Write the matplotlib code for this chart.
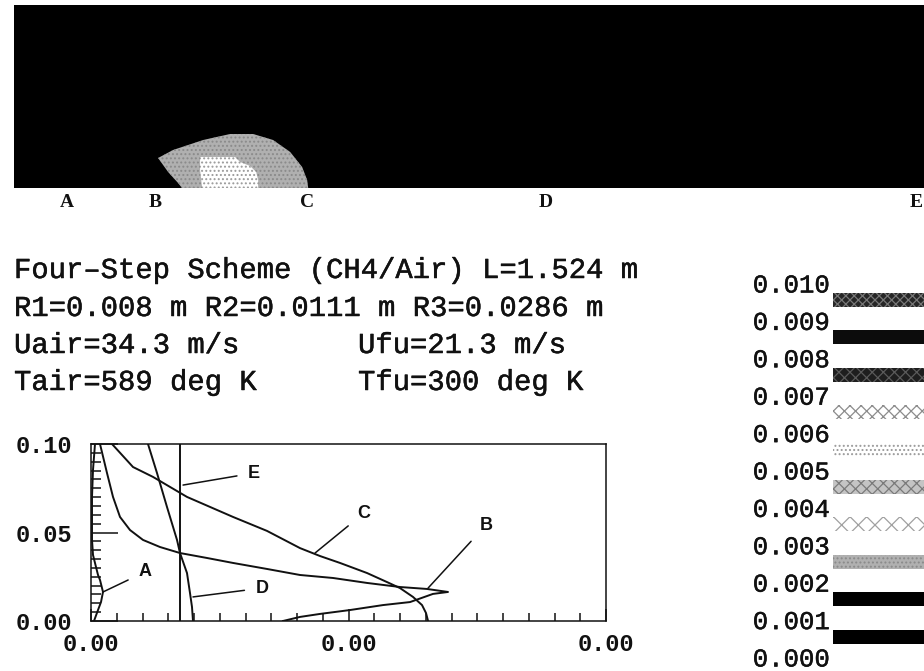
import matplotlib
matplotlib.use("Agg")
import matplotlib.pyplot as plt
import matplotlib.patheffects as pe
from matplotlib.ticker import FormatStrFormatter, MultipleLocator

# ---------------- data ----------------
# flame field along the tube (x [m], r [m])
tube_length = 1.524
tube_radius = 0.0286
station_names = ["A", "B", "C", "D", "E"]
station_x = [0.088, 0.233, 0.485, 0.879, 1.492]

# contour patches of the reaction-rate field, with the level they belong to
zone_outer_x = [0.278, 0.2715, 0.255, 0.2384, 0.2632, 0.3129, 0.3576, 0.3957,
                0.4288, 0.4570, 0.4768, 0.4851, 0.4868]
zone_outer_r = [0.0, 0.00078, 0.0025, 0.00469, 0.00594, 0.0075, 0.00844, 0.00844,
                0.0075, 0.00563, 0.00328, 0.00125, 0.0]
zone_outer_level = 0.002
zone_inner_x = [0.3113, 0.3079, 0.3079, 0.3659, 0.3742, 0.3907, 0.4007, 0.4040, 0.4040]
zone_inner_r = [0.0, 0.00281, 0.00484, 0.00484, 0.00406, 0.00344, 0.0025, 0.00125, 0.0]
zone_inner_level = 0.005
background_level = 0.000

# contour levels of the key
level_values = [0.010, 0.009, 0.008, 0.007, 0.006, 0.005, 0.004, 0.003, 0.002, 0.001, 0.000]
level_labels = ["0.010", "0.009", "0.008", "0.007", "0.006", "0.005",
                "0.004", "0.003", "0.002", "0.001", "0.000"]

# radial profiles at the stations (value, radius)
prof_A_x = [0.000031, 0.0000155, 0.0000078, 0.0000078, 0.0000155, 0.000031,
            0.0000544, 0.0000699, 0.0000932, 0.0000777, 0.0000544, 0.0000233]
prof_A_y = [0.100, 0.0853, 0.0701, 0.0458, 0.0373, 0.0328,
            0.0260, 0.0232, 0.0164, 0.0107, 0.0062, 0.0]
prof_B_x = [0.0000699, 0.0001243, 0.0001709, 0.0002252, 0.0003029, 0.0004039,
            0.0005359, 0.0006913, 0.000901, 0.0011029, 0.001367, 0.001623,
            0.00188, 0.002144, 0.0024, 0.00261, 0.002773, 0.002656,
            0.002478, 0.002268, 0.002012, 0.001779, 0.001623, 0.001491]
prof_B_y = [0.100, 0.0836, 0.0701, 0.0588, 0.0514, 0.0458,
            0.0418, 0.0384, 0.0356, 0.0328, 0.0294, 0.0260,
            0.0243, 0.0215, 0.0192, 0.0181, 0.0164, 0.0153,
            0.0107, 0.0090, 0.0062, 0.0040, 0.0023, 0.0]
prof_C_x = [0.0001631, 0.0003262, 0.0004816, 0.0007456, 0.0011029, 0.001367,
            0.001623, 0.001779, 0.001934, 0.002144, 0.002299, 0.0024,
            0.002501, 0.002571, 0.002602, 0.002618]
prof_C_y = [0.100, 0.0870, 0.0814, 0.0701, 0.0588, 0.0509,
            0.0412, 0.0367, 0.0328, 0.0271, 0.0220, 0.0186,
            0.0136, 0.0090, 0.0045, 0.0]
prof_D_x = [0.0004427, 0.0005126, 0.0005903, 0.000668, 0.0006913, 0.0007456,
            0.0007689, 0.0007845, 0.0007922]
prof_D_y = [0.100, 0.0836, 0.0644, 0.0458, 0.0384, 0.0271, 0.0158, 0.0079, 0.0]
prof_E_x = [0.0006913, 0.0006913]
prof_E_y = [0.0, 0.100]

x_ticks = [0.0, 0.002, 0.004]
y_ticks = [0.0, 0.05, 0.10]

# ---------------- styles ----------------
# fill style per key interval (top interval first)
band_face = ["#262626", "#0c0c0c", "#1e1e1e", "#ffffff", "#ffffff",
             "#c4c4c4", "#ffffff", "#b0b0b0", "#000000", "#000000"]
band_hatch = ["xxxx", "", "xxx", "xxx", "....", "xxx", "xx", "....", "", ""]
band_hatch_color = ["#777777", "#0c0c0c", "#5a5a5a", "#8c8c8c", "#9a9a9a",
                    "#7a7a7a", "#a0a0a0", "#8a8a8a", "#000000", "#000000"]

MONO = "Liberation Mono"
INK = "#111111"
W, H = 924, 671
plt.rcParams["hatch.linewidth"] = 0.9
medium = [pe.withStroke(linewidth=0.35, foreground=INK)]

fig = plt.figure(figsize=(W / 100, H / 100), dpi=100)
fig.patch.set_facecolor("white")


def band_index(level):
    # key interval whose lower bound is the given level
    lows = level_values[1:]
    return min(range(len(lows)), key=lambda i: abs(lows[i] - level))


def band_style(level):
    i = band_index(level)
    return dict(facecolor=band_face[i], hatch=band_hatch[i],
                edgecolor=band_hatch_color[i], linewidth=0)


# ---------------- top: flame field ----------------
ax_top = fig.add_axes([14 / W, 1 - 188 / H, 921 / W, 183 / H])
ax_top.set_xlim(0, tube_length)
ax_top.set_ylim(0, tube_radius)
ax_top.fill_between([0, tube_length], 0, tube_radius, **band_style(background_level))
ax_top.fill(zone_outer_x, zone_outer_r, **band_style(zone_outer_level))
ax_top.fill(zone_inner_x, zone_inner_r, **band_style(zone_inner_level))
for s in ax_top.spines.values():
    s.set_visible(False)
ax_top.set_yticks([])
ax_top.set_xticks(station_x, labels=station_names)
ax_top.tick_params(axis="x", length=0, pad=4)
for lab in ax_top.get_xticklabels():
    lab.set_fontfamily("Liberation Serif")
    lab.set_fontweight("bold")
    lab.set_fontsize(14)
    lab.set_color(INK)

# ---------------- case description ----------------
text_rows = [
    (14, 270, "Four\u2013Step Scheme (CH4/Air) L=1.524 m"),
    (14, 308, "R1=0.008 m R2=0.0111 m R3=0.0286 m"),
    (14, 345, "Uair=34.3 m/s"),
    (358, 345, "Ufu=21.3 m/s"),
    (14, 382, "Tair=589 deg K"),
    (358, 382, "Tfu=300 deg K"),
]
for px, py, s in text_rows:
    fig.text(px / W, 1 - py / H, s, fontfamily=MONO, fontsize=20.8,
             ha="left", va="center", color=INK, path_effects=medium)

# ---------------- radial profiles ----------------
ax = fig.add_axes([91 / W, 1 - 621 / H, 515 / W, 177 / H])
for xs, ys in [(prof_A_x, prof_A_y), (prof_B_x, prof_B_y), (prof_C_x, prof_C_y),
               (prof_D_x, prof_D_y), (prof_E_x, prof_E_y)]:
    ax.plot(xs, ys, color=INK, lw=1.4, solid_joinstyle="round")
ax.set_xlim(0, 0.004)
ax.set_ylim(0, 0.10)
ax.set_xticks(x_ticks)
ax.set_yticks(y_ticks)
ax.xaxis.set_major_formatter(FormatStrFormatter("%.2f"))
ax.yaxis.set_major_formatter(FormatStrFormatter("%.2f"))
ax.xaxis.set_minor_locator(MultipleLocator(0.0002))
ax.yaxis.set_minor_locator(MultipleLocator(0.005))
ax.tick_params(which="both", direction="in", color=INK, width=1.1)
ax.tick_params(axis="x", which="major", length=8.5, pad=8.5)
ax.tick_params(axis="x", which="minor", length=5.5)
ax.tick_params(axis="y", which="major", length=19.5, pad=13.5)
ax.tick_params(axis="y", which="minor", length=7)
for lab in ax.get_xticklabels() + ax.get_yticklabels():
    lab.set_fontfamily(MONO)
    lab.set_fontweight("bold")
    lab.set_fontsize(17)
    lab.set_color(INK)
for s in ax.spines.values():
    s.set_linewidth(1.1)
    s.set_color(INK)

# curve labels with leader lines (label position, point on the curve)
callouts = [
    ("A", (0.000419, 0.0277), (0.0000932, 0.0164)),
    ("B", (0.003068, 0.0542), (0.002618, 0.0186)),
    ("C", (0.002120, 0.0610), (0.001740, 0.0384)),
    ("D", (0.001328, 0.0186), (0.000792, 0.0136)),
    ("E", (0.001266, 0.0836), (0.000715, 0.0768)),
]
for name, (tx, ty), (cx, cy) in callouts:
    ax.annotate(name, xy=(cx, cy), xytext=(tx, ty), textcoords="data",
                fontfamily="Liberation Sans", fontweight="bold", fontsize=13,
                ha="center", va="center", color=INK,
                arrowprops=dict(arrowstyle="-", color=INK, lw=1.1,
                                shrinkA=6, shrinkB=0))

# ---------------- key ----------------
ax_key = fig.add_axes([833 / W, 1 - 657 / H, 0.12, (657 - 283) / H])
ax_key.set_xlim(0, 1)
ax_key.set_ylim(0, 0.010)
for i, lo in enumerate(level_values[1:]):
    ax_key.barh(lo + 0.000545, 1.0, height=0.00037, left=0,
                facecolor=band_face[i], hatch=band_hatch[i],
                edgecolor=band_hatch_color[i], linewidth=0)
ax_key.set_yticks(level_values, labels=level_labels)
ax_key.set_xticks([])
ax_key.tick_params(axis="y", length=0, pad=2)
for lab in ax_key.get_yticklabels():
    lab.set_fontfamily(MONO)
    lab.set_fontsize(18.5)
    lab.set_color(INK)
    lab.set_path_effects(medium)
for s in ax_key.spines.values():
    s.set_visible(False)
ax_key.patch.set_alpha(0)

fig.savefig("out.png", dpi=100)
